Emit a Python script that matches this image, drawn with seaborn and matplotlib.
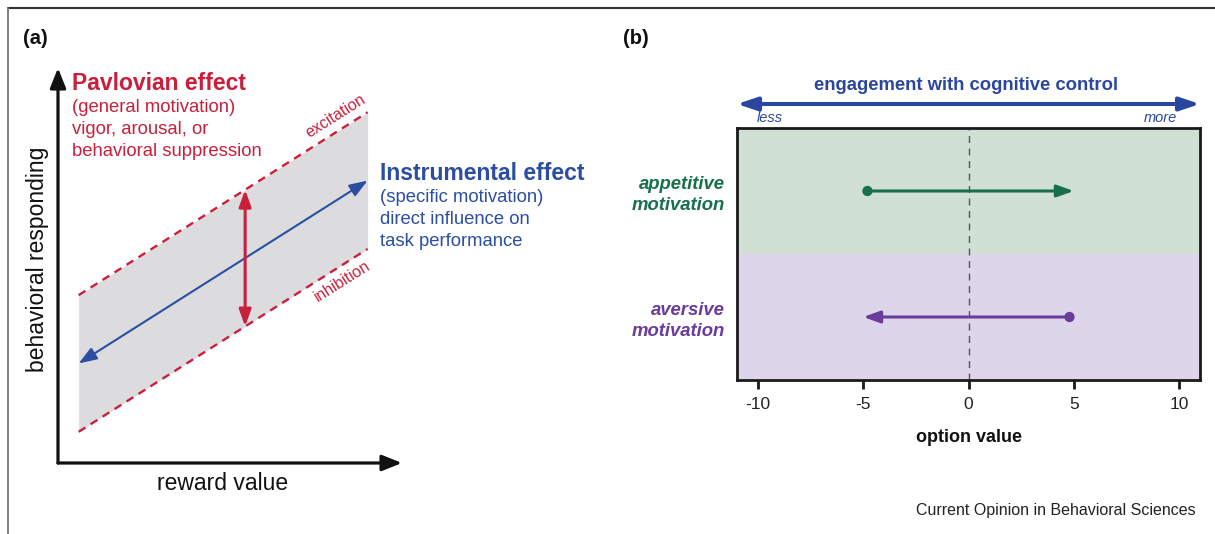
import numpy as np
import pandas as pd
import seaborn as sns
import matplotlib.pyplot as plt
from matplotlib.lines import Line2D

# panel (a): schematic band of responding vs reward value
reward_span = [0.6, 9.0]          # reward value at the two ends of the band
instrumental_resp = [2.52, 7.15]  # instrumental (blue) line at those ends
pavlov_halfwidth = 1.73           # Pavlovian excitation / inhibition offset
pavlov_x = 5.44                   # where the red double arrow sits

# panel (b): option value shift per motivation type
rows = ['appetitive\nmotivation', 'aversive\nmotivation']
row_y = [1.5, 0.5]
value_start = [-4.8, 4.8]
value_end = [5.0, -5.0]
value_ticks = [-10, -5, 0, 5, 10]

RED = '#c8203c'
BLUE = '#2b4ea2'
GREEN = '#17704a'
PURPLE = '#6a3b9c'

sns.set_theme(style='white')
plt.rcParams['font.family'] = ['Liberation Sans', 'DejaVu Sans']

W, H = 1215, 534
fig = plt.figure(figsize=(W / 100, H / 100), dpi=100)


def box(x0, y0, x1, y1):
    return [x0 / W, 1 - y1 / H, (x1 - x0) / W, (y1 - y0) / H]


def ftext(x, y, s, **kw):
    kw.setdefault('va', 'center')
    fig.text(x / W, 1 - y / H, s, **kw)


# ---------------- panel (a) ----------------
ax = fig.add_axes(box(58, 68, 402, 463))
ax.set_xlim(0, 10)
ax.set_ylim(0, 10)

band = pd.DataFrame({'reward': reward_span, 'mid': instrumental_resp})
band['upper'] = band['mid'] + pavlov_halfwidth
band['lower'] = band['mid'] - pavlov_halfwidth
ax.fill_between(band['reward'], band['lower'], band['upper'], color='#dcdcde', lw=0)
for col in ['upper', 'lower']:
    sns.lineplot(data=band, x='reward', y=col, ax=ax, color=RED, lw=1.7,
                 linestyle=(0, (3.4, 2.6)))

ax.annotate('', xy=(reward_span[1], instrumental_resp[1]),
            xytext=(reward_span[0], instrumental_resp[0]),
            arrowprops=dict(arrowstyle='<|-|>,head_length=0.55,head_width=0.2',
                            mutation_scale=20, lw=1.5, color=BLUE,
                            shrinkA=0, shrinkB=0))

mid = np.interp(pavlov_x, reward_span, instrumental_resp)
ax.annotate('', xy=(pavlov_x, mid + pavlov_halfwidth),
            xytext=(pavlov_x, mid - pavlov_halfwidth),
            arrowprops=dict(arrowstyle='<|-|>,head_length=0.5,head_width=0.18',
                            mutation_scale=20, lw=2.2, color=RED,
                            shrinkA=0, shrinkB=0))

# axis arrows
for tip in [(0, 1), (1, 0)]:
    ax.annotate('', xy=tip, xytext=(0, 0), xycoords='axes fraction',
                arrowprops=dict(arrowstyle='-|>,head_length=0.6,head_width=0.24',
                                mutation_scale=20, lw=2.3, color='#111111',
                                shrinkA=0, shrinkB=0))

ax.set_xticks([])
ax.set_yticks([])
sns.despine(ax=ax, left=True, bottom=True)
ax.set_xlabel('reward value', fontsize=16.5, color='#111111')
ax.set_ylabel('behavioral responding', fontsize=16.5, color='#111111')
ax.xaxis.label.set_va('center')
ax.yaxis.label.set_va('center')
ax.xaxis.set_label_coords((223 - 58) / 344, -(484 - 463) / 395)
ax.yaxis.set_label_coords((37 - 58) / 344, (463 - 259) / 395)

ftext(72, 84, 'Pavlovian effect', color=RED, fontsize=16.5, fontweight='bold')
for yy, s in zip([108, 130, 152], ['(general motivation)', 'vigor, arousal, or',
                                   'behavioral suppression']):
    ftext(72, yy, s, color=RED, fontsize=13.3)

ftext(380, 173, 'Instrumental effect', color=BLUE, fontsize=16.5, fontweight='bold')
for yy, s in zip([197, 219, 242], ['(specific motivation)', 'direct influence on',
                                   'task performance']):
    ftext(380, yy, s, color=BLUE, fontsize=13.3)

ftext(336, 116, 'excitation', color=RED, fontsize=11.5, rotation=32.3,
      ha='center', rotation_mode='anchor')
ftext(342, 281, 'inhibition', color=RED, fontsize=11.5, rotation=32.3,
      ha='center', rotation_mode='anchor')

ftext(23, 38, '(a)', fontsize=14.5, fontweight='bold', color='#111111')
ftext(623, 38, '(b)', fontsize=14.5, fontweight='bold', color='#111111')

# ---------------- panel (b) ----------------
bx = fig.add_axes(box(737, 128, 1200, 380))
bx.set_xlim(-11, 11)
bx.set_ylim(0, 2)
bx.axhspan(1, 2, color='#d0e0d5', lw=0, zorder=0)
bx.axhspan(0, 1, color='#ddd5ea', lw=0, zorder=0)
bx.axvline(0, color='#555555', lw=1, linestyle=(0, (5, 4)), zorder=1)

colors = [GREEN, PURPLE]
sns.scatterplot(x=value_start, y=row_y, hue=rows, palette=colors, s=55,
                edgecolor='none', legend=False, ax=bx, zorder=4)
for x0, x1, yy, c in zip(value_start, value_end, row_y, colors):
    bx.annotate('', xy=(x1, yy), xytext=(x0, yy),
                arrowprops=dict(arrowstyle='-|>,head_length=0.5,head_width=0.18',
                                mutation_scale=20, lw=2.2, color=c,
                                shrinkA=0, shrinkB=0), zorder=3)

for sp in bx.spines.values():
    sp.set_visible(True)
    sp.set_linewidth(2)
    sp.set_color('#1a1a1a')

bx.set_xticks(value_ticks)
bx.set_xticklabels([str(v) for v in value_ticks])
bx.tick_params(axis='x', bottom=True, direction='out', length=6.5, width=2,
               color='#1a1a1a', labelsize=12.5, labelcolor='#222222', pad=6)
bx.set_yticks(row_y)
bx.set_yticklabels(rows)
bx.tick_params(axis='y', left=False, length=0, pad=9)
for lab, c in zip(bx.get_yticklabels(), colors):
    lab.set_color(c)
    lab.set_fontweight('bold')
    lab.set_fontstyle('italic')
    lab.set_fontsize(13.3)
    lab.set_linespacing(1.3)

bx.set_xlabel('option value', fontsize=13, fontweight='bold', color='#111111')
bx.xaxis.label.set_va('center')
bx.xaxis.set_label_coords(0.5, -(438 - 380) / 252)

bx.annotate('', xy=(11, (380 - 104) / 252), xytext=(-11, (380 - 104) / 252),
            xycoords=('data', 'axes fraction'),
            arrowprops=dict(arrowstyle='<|-|>,head_length=0.6,head_width=0.2',
                            mutation_scale=20, lw=2.9, color='#2a46a0',
                            shrinkA=0, shrinkB=0), annotation_clip=False)

ftext(966, 86, 'engagement with cognitive control', color='#2a46a0',
      fontsize=13.3, fontweight='bold', ha='center')
ftext(757, 118, 'less', color='#2a46a0', fontsize=10.5, fontstyle='italic')
ftext(1177, 118, 'more', color='#2a46a0', fontsize=10.5, fontstyle='italic', ha='right')

ftext(1196, 510, 'Current Opinion in Behavioral Sciences', color='#222222',
      fontsize=11.5, ha='right')

# figure frame (top and left edges)
fig.add_artist(Line2D([8 / W, 1], [1 - 8 / H, 1 - 8 / H], color='#333333',
                      lw=1.5, transform=fig.transFigure))
fig.add_artist(Line2D([8 / W, 8 / W], [1 - 8 / H, 0], color='#777777',
                      lw=1.3, transform=fig.transFigure))

fig.savefig('out.png', dpi=100)
